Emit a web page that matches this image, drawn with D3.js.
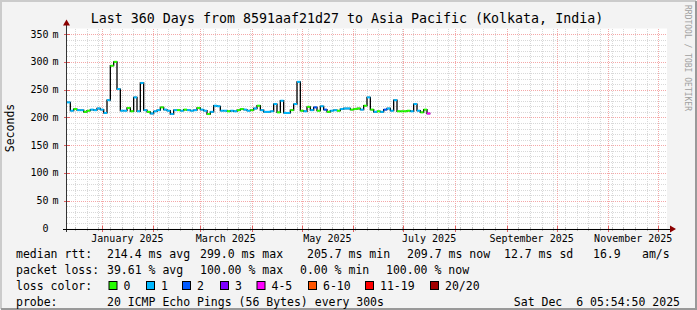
<!DOCTYPE html>
<html>
<head>
<meta charset="utf-8">
<script src="https://cdn.jsdelivr.net/npm/d3@7/dist/d3.min.js"></script>
<style>
body { margin: 0; background: #f3f3f3; }
svg text { font-family: "DejaVu Sans Mono", monospace; fill: #000; }
</style>
</head>
<body>
<svg id="chart" width="697" height="310"></svg>
<script>
'use strict'

/* ================================ Data ================================ */

// graph ends at the probe time, covers 360 days
var endTime = new Date(Date.UTC(2025, 11, 6, 5, 54, 50));
var rangeDays = 360;
var stepDays = 2;

// median rtt in ms, one value per 2-day step from the start of the graph
var medianMs = [
	227, 212, 215, 213, 213, 210, 212, 214, 213, 216, 214, 208, 231, 293, 300, 251,
	212, 212, 217, 211, 236, 211, 262, 213, 210, 207, 211, 213, 218, 214, 212, 206,
	213, 213, 212, 214, 213, 212, 213, 217, 214, 212, 206, 210, 221, 220, 212, 212,
	211, 212, 211, 213, 215, 214, 212, 213, 216, 221, 213, 210, 210, 211, 224, 209,
	230, 208, 208, 213, 224, 264, 212, 211, 219, 213, 218, 212, 220, 214, 210, 212,
	213, 212, 215, 216, 216, 214, 215, 216, 214, 221, 236, 214, 210, 211, 210, 214,
	216, 212, 231, 211, 211, 211, 212, 211, 224, 212, 209, 214, 207
];

// lost pings (out of 20) for each step above
var lostPings = [
	1, 1, 0, 1, 1, 0, 0, 1, 1, 1, 1, 1, 1, 0, 0, 1,
	1, 1, 0, 0, 1, 1, 1, 1, 0, 1, 1, 1, 0, 1, 1, 1,
	1, 0, 1, 0, 1, 1, 1, 0, 1, 1, 0, 1, 1, 1, 1, 1,
	0, 1, 1, 0, 0, 1, 1, 0, 1, 0, 1, 1, 1, 1, 1, 0,
	1, 1, 1, 0, 1, 1, 0, 1, 0, 1, 2, 0, 1, 2, 0, 1,
	1, 0, 1, 1, 1, 0, 0, 0, 1, 0, 1, 0, 1, 0, 1, 2,
	1, 1, 1, 0, 0, 0, 0, 1, 1, 1, 0, 0, 5
];

var lossLabels = ['0', '1', '2', '3', '4-5', '6-10', '11-19', '20/20'];
var lossColors = ['#26ff00', '#00b8ff', '#0059ff', '#7e00ff', '#ff00ff', '#ff5500', '#ff0000', '#a10000'];
var lossUpper = [0, 1, 2, 3, 5, 10, 19, 20];

var yTicks = [0, 50, 100, 150, 200, 250, 300, 350];

var rttStats = ['214.4 ms avg', '299.0 ms max', '205.7 ms min', '209.7 ms now', '12.7 ms sd', '16.9', 'am/s'];
var lossStats = ['39.61 % avg', '100.00 % max', '0.00 % min', '100.00 % now'];

/* ============================== Layout ================================ */

var svg = d3.select('#chart');
var W = 697, H = 310;
var pLeft = 67, pRight = 667, pTop = 28.5, pBottom = 228.5;

var startTime = new Date(endTime.getTime() - rangeDays * 864e5);
var x = d3.scaleUtc().domain([startTime, endTime]).range([pLeft, pRight]);
var y = d3.scaleLinear().domain([0, 360]).range([pBottom, pTop]);

// frame + canvas
svg.append('rect').attr('width', W).attr('height', H).attr('fill', '#f3f3f3');
svg.append('path').attr('d', 'M1,' + (H - 1) + 'V1H' + (W - 1)).attr('stroke', '#cbcbcb').attr('stroke-width', 2).attr('fill', 'none');
svg.append('path').attr('d', 'M1,' + (H - 1) + 'H' + (W - 1) + 'V1').attr('stroke', '#999').attr('stroke-width', 2).attr('fill', 'none');
svg.append('rect').attr('x', pLeft).attr('y', pTop).attr('width', pRight - pLeft).attr('height', pBottom - pTop).attr('fill', '#fff');

/* =============================== Grid ================================= */

var grid = svg.append('g').attr('shape-rendering', 'crispEdges');

// minor: weeks and 10 ms
d3.utcMonday.range(startTime, endTime).forEach(function(d){
	var px = Math.round(x(d)) + 0.5;
	grid.append('line').attr('x1', px).attr('x2', px).attr('y1', pTop).attr('y2', pBottom)
		.attr('stroke', '#d8d8d8').attr('stroke-dasharray', '1,1');
});
d3.range(10, 360, 10).filter(function(v){ return v % 50 !== 0; }).forEach(function(v){
	var py = Math.round(y(v)) + 0.5;
	grid.append('line').attr('x1', pLeft).attr('x2', pRight).attr('y1', py).attr('y2', py)
		.attr('stroke', '#d8d8d8').attr('stroke-dasharray', '1,1');
});

// major: months and 50 ms
var months = d3.utcMonth.range(startTime, endTime);
months.forEach(function(d){
	var px = Math.round(x(d)) + 0.5;
	grid.append('line').attr('x1', px).attr('x2', px).attr('y1', pTop).attr('y2', pBottom)
		.attr('stroke', '#f4a8a8').attr('stroke-dasharray', '1,1');
});
yTicks.filter(function(v){ return v > 0; }).forEach(function(v){
	var py = Math.round(y(v)) + 0.5;
	grid.append('line').attr('x1', pLeft).attr('x2', pRight).attr('y1', py).attr('y2', py)
		.attr('stroke', '#f4a8a8').attr('stroke-dasharray', '1,1');
});

/* =============================== Median =============================== */

var samples = medianMs.map(function(v, i){
	return {
		t0: d3.utcDay.offset(startTime, i * stepDays),
		t1: d3.utcDay.offset(startTime, (i + 1) * stepDays),
		v: v,
		loss: lostPings[i]
	};
});

function lossColor(n){
	for(var k = 0; k < lossUpper.length; k++){
		if(n <= lossUpper[k]) return lossColors[k];
	}
	return lossColors[lossColors.length - 1];
}

// black step line underneath, coloured pieces on top
var stepPts = samples.map(function(s){ return [x(s.t0), y(s.v)]; });
var last = samples[samples.length - 1];
stepPts.push([x(last.t1), y(last.v)]);
svg.append('path')
	.attr('d', d3.line().curve(d3.curveStepAfter)(stepPts))
	.attr('fill', 'none').attr('stroke', '#000').attr('stroke-width', 1.3);

svg.append('g').selectAll('line').data(samples).enter().append('line')
	.attr('x1', function(s){ return x(s.t0); })
	.attr('x2', function(s){ return x(s.t1); })
	.attr('y1', function(s){ return y(s.v); })
	.attr('y2', function(s){ return y(s.v); })
	.attr('stroke', function(s){ return lossColor(s.loss); })
	.attr('stroke-width', 2);

/* =============================== Axes ================================= */

var axes = svg.append('g').attr('shape-rendering', 'crispEdges');

// tick marks
d3.utcMonday.range(startTime, endTime).forEach(function(d){
	var px = Math.round(x(d)) + 0.5;
	axes.append('line').attr('x1', px).attr('x2', px).attr('y1', pBottom - 2).attr('y2', pBottom + 2).attr('stroke', '#bbb');
});
months.forEach(function(d){
	var px = Math.round(x(d)) + 0.5;
	axes.append('line').attr('x1', px).attr('x2', px).attr('y1', pBottom - 3).attr('y2', pBottom + 3).attr('stroke', '#e06060');
});
yTicks.forEach(function(v){
	var py = Math.round(y(v)) + 0.5;
	axes.append('line').attr('x1', pLeft - 3).attr('x2', pLeft + 3).attr('y1', py).attr('y2', py).attr('stroke', '#e06060');
});

// axis lines
axes.append('line').attr('x1', pLeft - 0.5).attr('x2', pLeft - 0.5).attr('y1', pTop - 4).attr('y2', pBottom + 3).attr('stroke', '#333');
axes.append('line').attr('x1', pLeft - 4).attr('x2', pRight + 4).attr('y1', pBottom + 0.5).attr('y2', pBottom + 0.5).attr('stroke', '#000');

// arrows
svg.append('path').attr('d', 'M' + (pLeft - 4) + ',' + (pTop - 3) + 'L' + (pLeft - 0.5) + ',' + (pTop - 9) + 'L' + (pLeft + 3) + ',' + (pTop - 3) + 'Z').attr('fill', '#8b0000');
svg.append('path').attr('d', 'M' + (pRight + 3) + ',' + (pBottom - 3) + 'L' + (pRight + 9) + ',' + (pBottom + 0.5) + 'L' + (pRight + 3) + ',' + (pBottom + 4) + 'Z').attr('fill', '#8b0000');

// y labels: number, then unit in its own column
yTicks.forEach(function(v){
	svg.append('text').attr('x', 48.5).attr('y', y(v) + 3.5).attr('text-anchor', 'end')
		.style('font-size', '10px').text(v);
	if(v > 0){
		svg.append('text').attr('x', 52.5).attr('y', y(v) + 3.5)
			.style('font-size', '10px').text('m');
	}
});

// x labels, every other month, centred mid month
months.filter(function(d){ return d.getUTCMonth() % 2 === 0; }).forEach(function(d){
	var mid = new Date((d.getTime() + d3.utcMonth.offset(d, 1).getTime()) / 2);
	svg.append('text').attr('x', x(mid)).attr('y', 241.5).attr('text-anchor', 'middle')
		.style('font-size', '10px').text(d3.utcFormat('%B %Y')(d));
});

/* ============================= Text bits ============================== */

svg.append('text').attr('x', 347).attr('y', 22.5).attr('text-anchor', 'middle')
	.style('font-size', '13.3px').text('Last 360 Days from 8591aaf21d27 to Asia Pacific (Kolkata, India)');

svg.append('text').attr('transform', 'translate(14,128) rotate(-90)').attr('text-anchor', 'middle')
	.style('font-size', '11.5px').text('Seconds');

svg.append('text').attr('transform', 'translate(685,5) rotate(90)')
	.style('font-size', '8px').style('fill', '#a0a0a0').text('RRDTOOL / TOBI OETIKER');

/* =============================== Legend =============================== */

var legend = svg.append('g').style('font-size', '11.5px');
var rowY = [258, 274, 290, 306];

legend.append('text').attr('x', 16).attr('y', rowY[0]).text('median rtt:');
var rttX = [107, 200, 307, 407, 504, 593, 642];
rttStats.forEach(function(s, i){
	legend.append('text').attr('x', rttX[i]).attr('y', rowY[0]).text(s);
});

legend.append('text').attr('x', 16).attr('y', rowY[1]).text('packet loss:');
var lossX = [107, 200, 300, 386];
lossStats.forEach(function(s, i){
	legend.append('text').attr('x', lossX[i]).attr('y', rowY[1]).text(s);
});

legend.append('text').attr('x', 16).attr('y', rowY[2]).text('loss color:');
var swatchX = [108.5, 146, 182, 220, 256.5, 308, 365, 430];
lossLabels.forEach(function(l, i){
	legend.append('rect').attr('x', swatchX[i] + 0.5).attr('y', rowY[2] - 8.5).attr('width', 8).attr('height', 8)
		.attr('fill', lossColors[i]).attr('stroke', '#000').attr('stroke-width', 1);
	legend.append('text').attr('x', swatchX[i] + 15).attr('y', rowY[2]).text(l);
});

legend.append('text').attr('x', 16).attr('y', rowY[3]).text('probe:');
legend.append('text').attr('x', 107).attr('y', rowY[3]).text('20 ICMP Echo Pings (56 Bytes) every 300s');
legend.append('text').attr('x', 680).attr('y', rowY[3]).attr('text-anchor', 'end')
	.style('white-space', 'pre').text('Sat Dec  6 05:54:50 2025');
</script>
</body>
</html>
